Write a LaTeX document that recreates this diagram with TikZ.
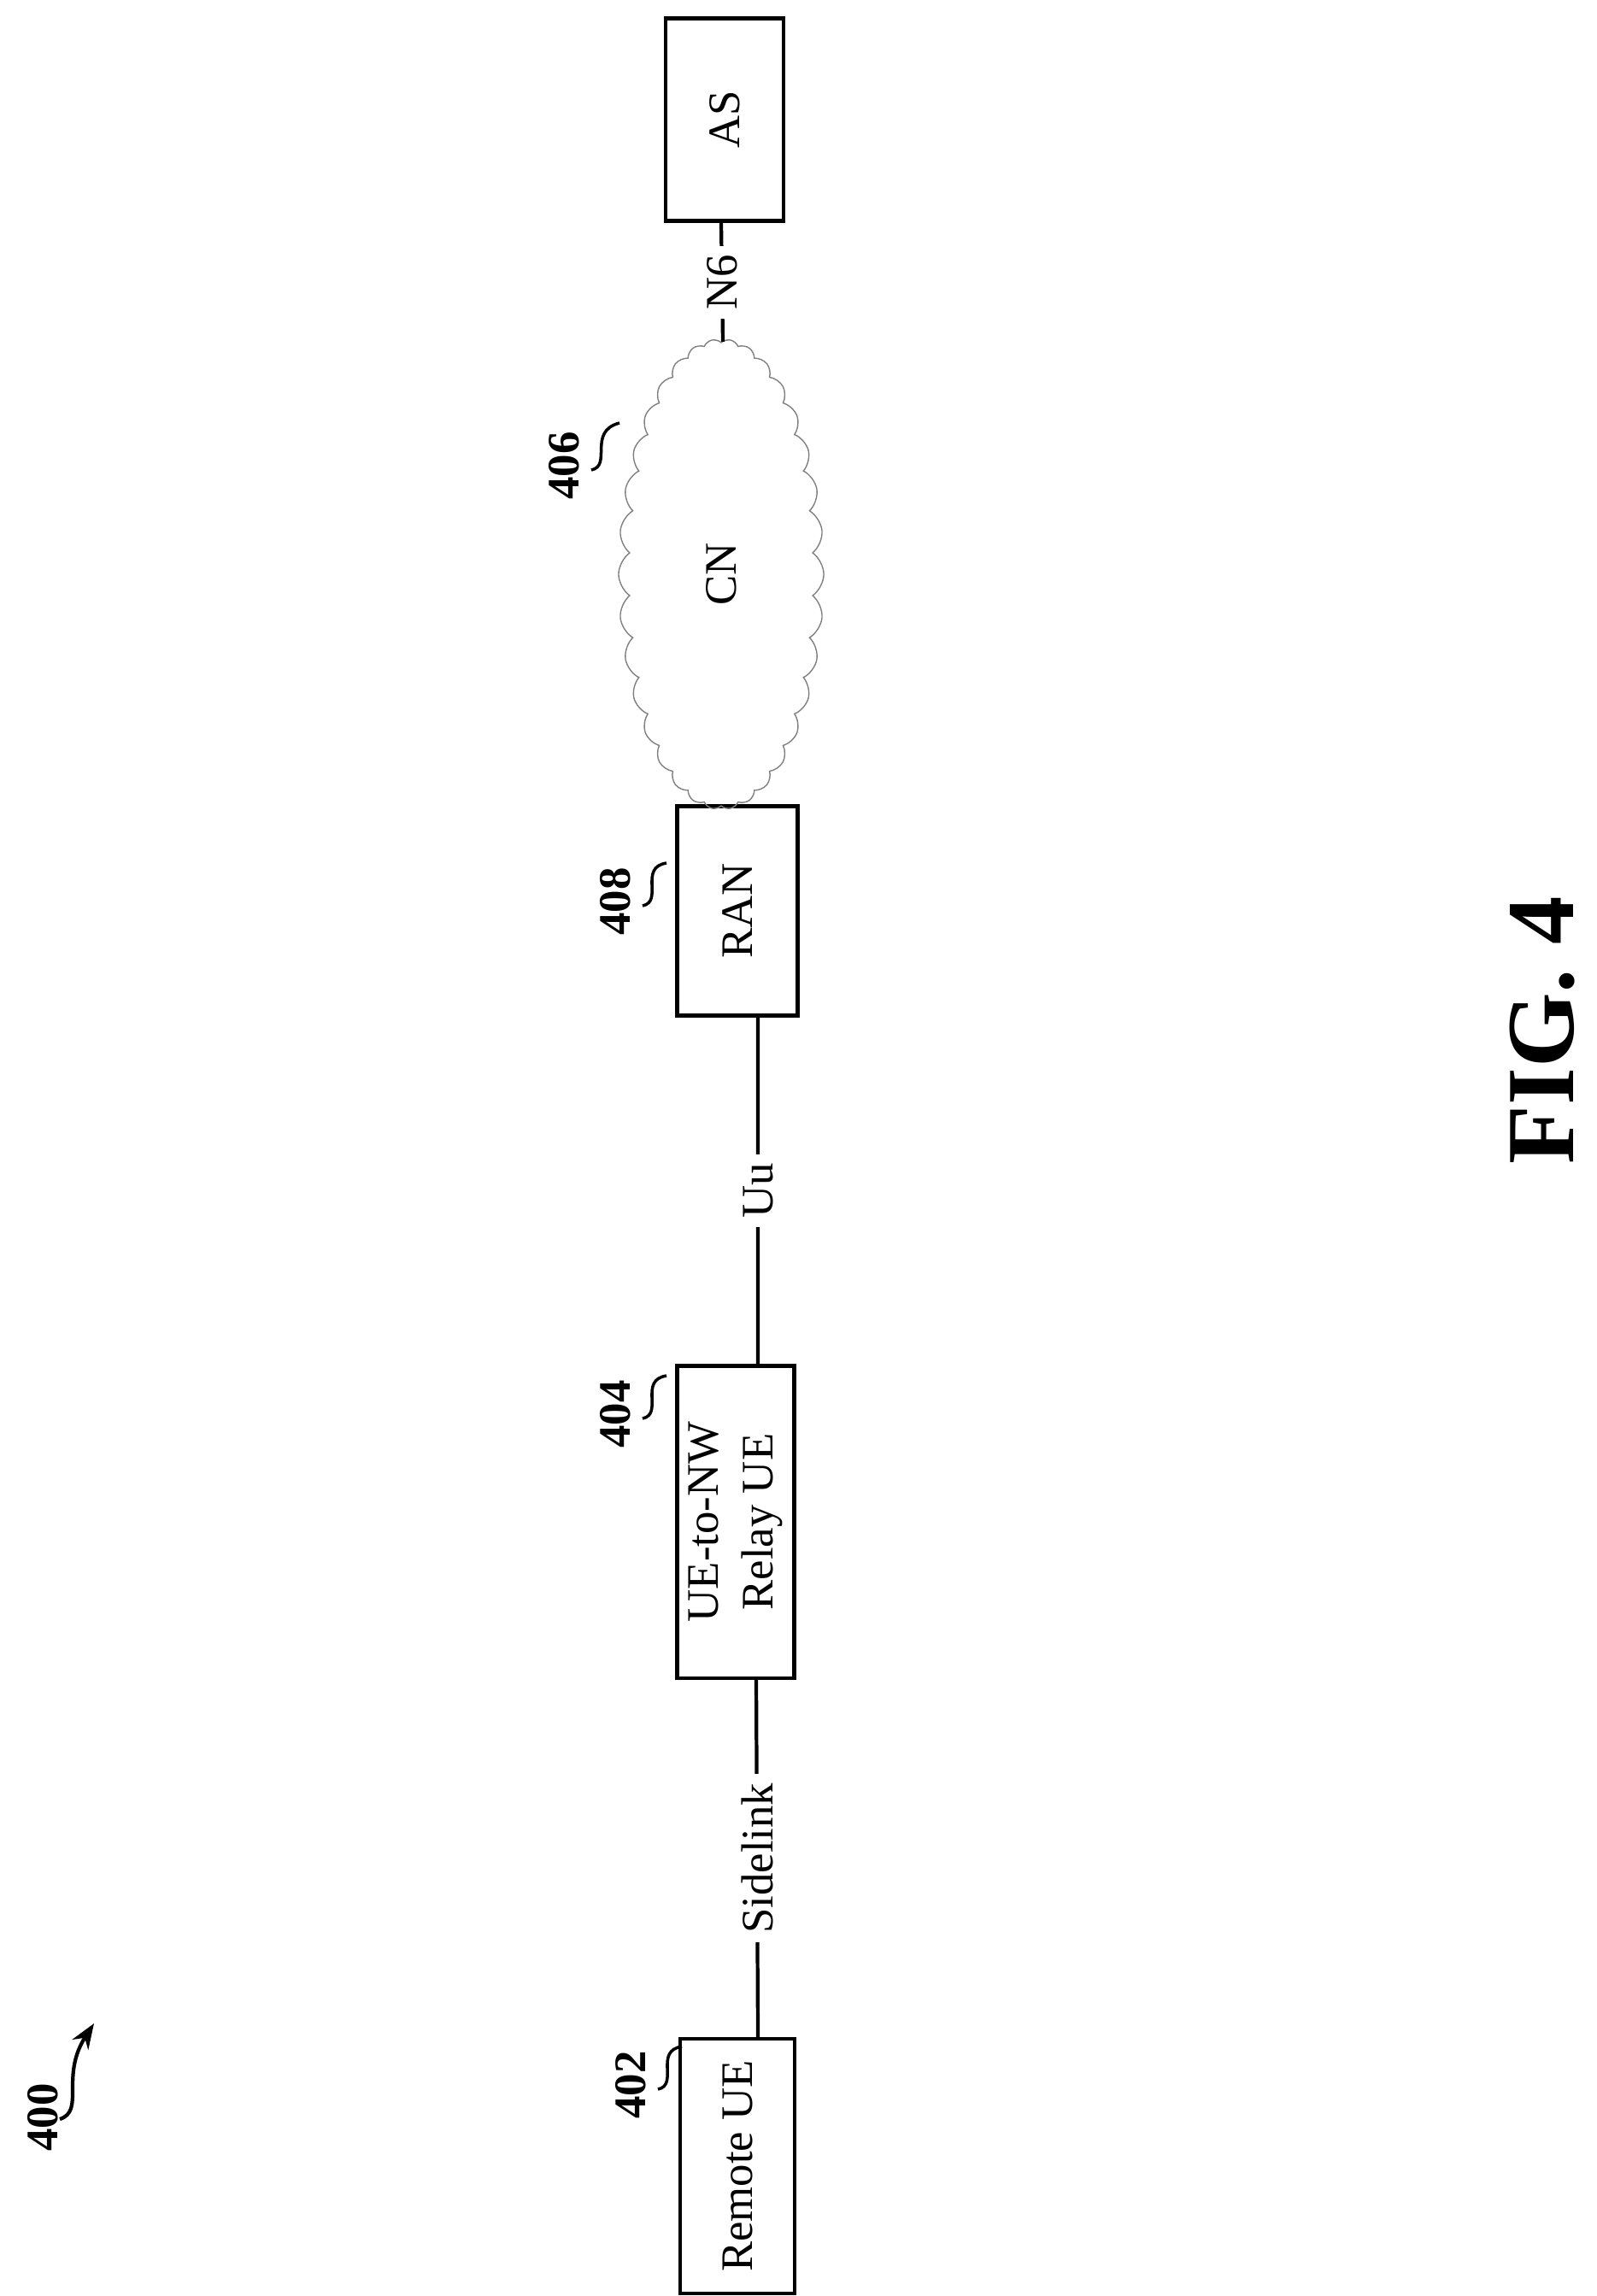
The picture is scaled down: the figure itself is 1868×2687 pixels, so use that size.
\documentclass[tikz,border=0pt]{standalone}
\usepackage{fontspec}
\setmainfont{Liberation Serif}
\usetikzlibrary{arrows.meta, calc, positioning, shapes.symbols}

\begin{document}
\begin{tikzpicture}[x=0.01cm, y=-0.01cm, >=Stealth,
    box/.style={draw, line width=1.2pt, rotate=90, align=center, font=\fontsize{15}{18}\selectfont},
    link/.style={line width=1.2pt},
    linklabel/.style={rotate=90, fill=white, inner sep=3pt, font=\fontsize{15}{18}\selectfont},
    refnum/.style={rotate=90, font=\bfseries\fontsize{15}{18}\selectfont},
    leader/.style={line width=1pt}]
                \useasboundingbox (0,0) rectangle (1868,2687);

                % Boxes
                \node[box, minimum width=2.98cm, minimum height=1.34cm] (remote) at (863,2535) {Remote UE};
                \node[box, minimum width=3.65cm, minimum height=1.37cm] (relay) at (861,1781) {UE-to-NW\\Relay UE};
                \node[box, minimum width=2.45cm, minimum height=1.41cm] (ran) at (863,1066) {RAN};
                \node[box, minimum width=2.37cm, minimum height=1.38cm] (as) at (848,140) {AS};

                % Core network cloud
                \node[draw=gray, cloud, cloud puffs=34, cloud puff arc=110, aspect=2.3,
                      minimum width=5.5cm, minimum height=2.4cm, rotate=90,
                      font=\fontsize{15}{18}\selectfont] (cn) at (844,672) {CN};

                % Links
                \draw[link] ([xshift=0.24cm]remote.east) -- node[linklabel] {Sidelink} ([xshift=0.24cm]relay.west);
                \draw[link] ([xshift=0.26cm]relay.east) -- node[linklabel] {Uu} ([xshift=0.24cm]ran.west);
                \draw[link] ([xshift=0.02cm]cn.east) -- node[linklabel] {N6} (as.west -| cn.east);

                % Reference numerals
                \node[refnum] (n402) at (738,2440) {402};
                \draw[leader] (770,2445) .. controls (795,2440) and (765,2400) .. (798,2395);
                \node[refnum] (n404) at (720,1655) {404};
                \draw[leader] (752,1660) .. controls (777,1655) and (747,1615) .. (780,1610);
                \node[refnum] (n408) at (720,1055) {408};
                \draw[leader] (752,1060) .. controls (777,1055) and (747,1015) .. (780,1010);
                \node[refnum] (n406) at (660,545) {406};
                \draw[leader] (692,550) .. controls (717,545) and (687,505) .. (725,495);
                \node[refnum] (n400) at (50,2478) {400};
                \draw[->, line width=1.2pt] (70,2480) .. controls (100,2470) and (70,2430) .. (110,2368);

                % Figure label
                \node[rotate=90, font=\bfseries\fontsize{32}{38}\selectfont] (fig) at (1805,1206) {FIG. 4};
            \end{tikzpicture}
\end{document}
